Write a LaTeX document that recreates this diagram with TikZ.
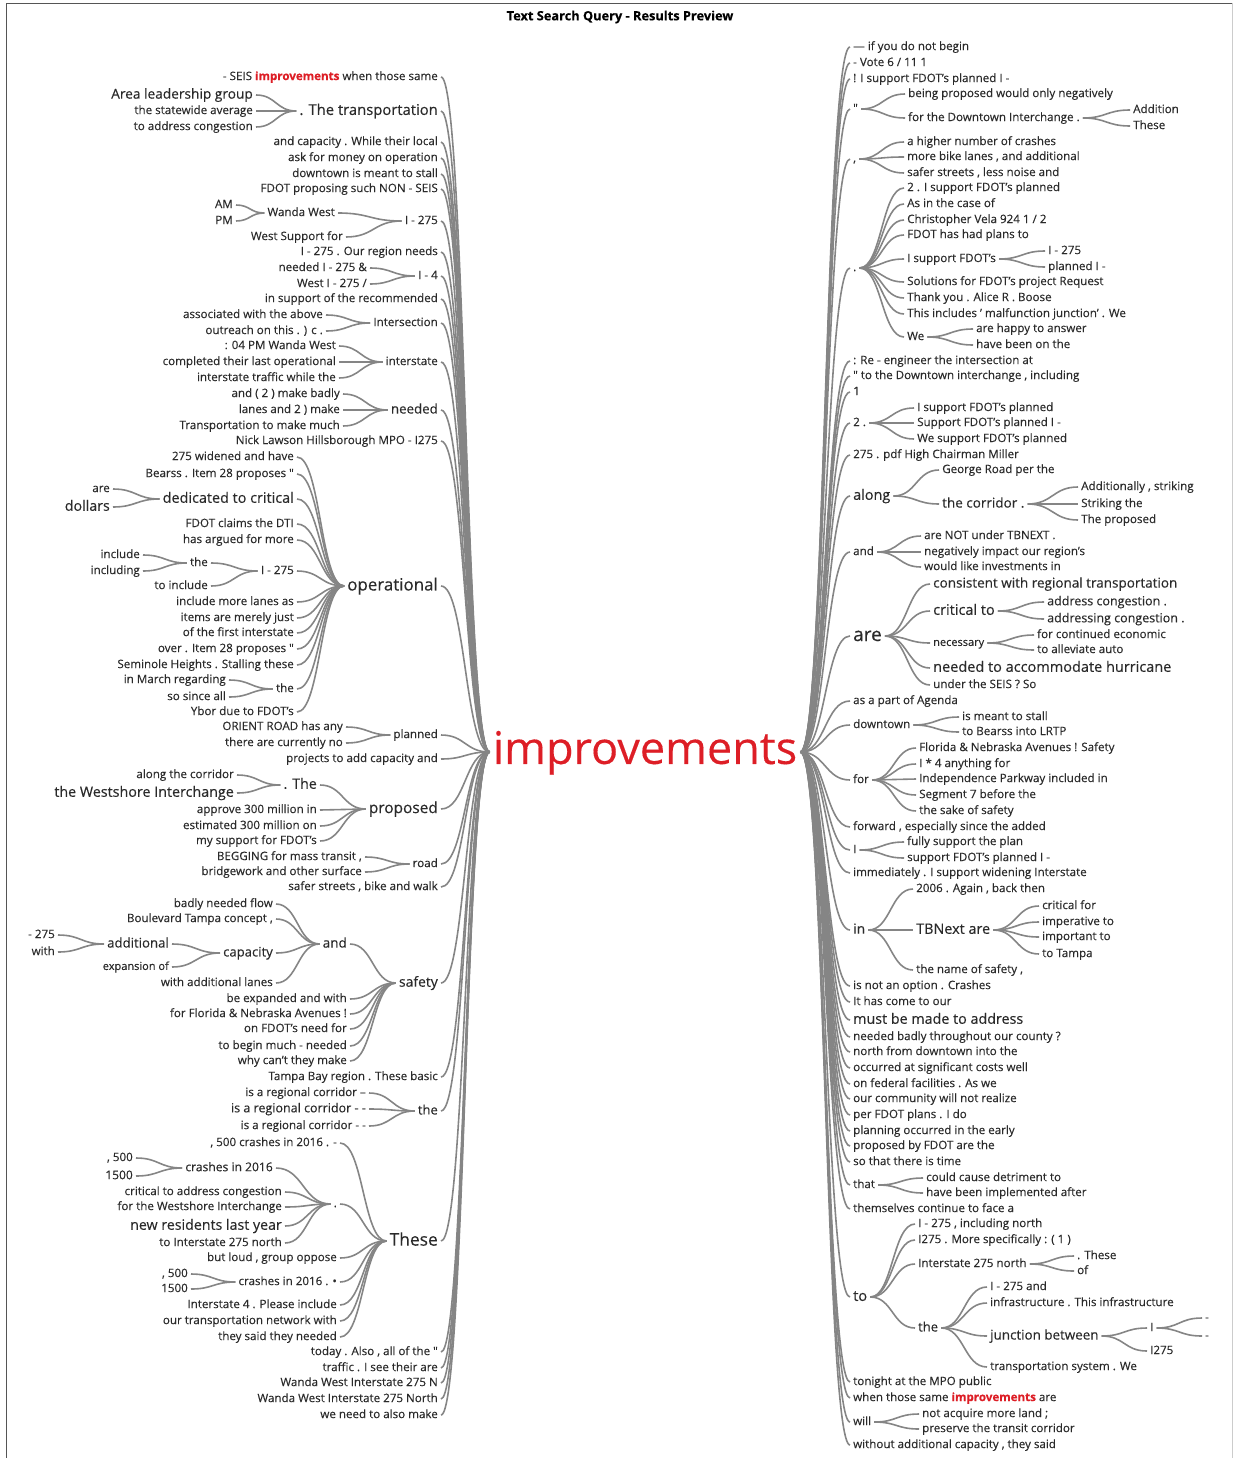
\documentclass[tikz,border=0pt]{standalone}
\usepackage{fontspec}
\setmainfont{Open Sans}[FakeBold=0.3]
\usetikzlibrary{calc}
\definecolor{wordgray}{HTML}{2A2A2A}
\definecolor{linkgray}{HTML}{858585}
\definecolor{hitred}{HTML}{DD1E26}
\definecolor{framegray}{HTML}{555555}
\newcommand{\kwd}{\textbf{\color{hitred}improvements}}

\tikzset{
  wsize/.style={font=\fontsize{#1}{#1}\selectfont, text height={0.75*#1pt}, text depth={0.22*#1pt}},
  wd/.style={text=wordgray, inner xsep=3pt, inner ysep=0pt, wsize=11.6},
  lw/.style={wd, anchor=east},
  rw/.style={wd, anchor=west},
  link/.style={draw=linkgray, line width=1.6pt,
    to path={let \p1=(\tikztostart), \p2=(\tikztotarget), \p3=($(\p1)!0.5!(\p2)$) in
      .. controls (\x3,\y1) and (\x3,\y2) .. (\tikztotarget)}},
}

\begin{document}
\begin{tikzpicture}[x=1pt, y=-1pt]
\useasboundingbox (0,0) rectangle (1233,1458);
% frame
\draw[framegray] (6,1458) -- (6,3) -- (1232,3);
\draw[black!20] (1232,3) -- (1232,1458);
\node[text=black, font=\bfseries\fontsize{12.8}{14}\selectfont] (title) at (620,17) {Text Search Query - Results Preview};

% root word
\node[text=hitred, inner xsep=3pt, inner ysep=0pt, wsize=45] (root) at (645,752) {improvements};

% left side
\node[lw] (a1) at (441,77) {- SEIS \kwd{} when those same};
\node[lw, wsize=14.8] (a2) at (441,111) {. The transportation};
  \node[lw, wsize=13.7] (a2a) at (256,95) {Area leadership group};
  \node[lw] (a2b) at (256,111) {the statewide average};
  \node[lw] (a2c) at (256,127) {to address congestion};
\node[lw] (a3) at (441,142) {and capacity . While their local};
\node[lw] (a4) at (441,158) {ask for money on operation};
\node[lw] (a5) at (441,174) {downtown is meant to stall};
\node[lw] (a6) at (441,189) {FDOT proposing such NON - SEIS};
\node[lw] (a7) at (441,221) {I - 275};
  \node[lw] (a7a) at (338,213) {Wanda West};
    \node[lw] (a7aa) at (236,205) {AM};
    \node[lw] (a7ab) at (236,221) {PM};
  \node[lw] (a7b) at (346,237) {West Support for};
\node[lw] (a8) at (441,252) {I - 275 . Our region needs};
\node[lw] (a9) at (441,276) {I - 4};
  \node[lw] (a9a) at (370,268) {needed I - 275 \&};
  \node[lw] (a9b) at (370,284) {West I - 275 /};
\node[lw] (a10) at (441,299) {in support of the recommended};
\node[lw] (a11) at (441,323) {Intersection};
  \node[lw] (a11a) at (326,315) {associated with the above};
  \node[lw] (a11b) at (326,331) {outreach on this . ) c .};
\node[lw] (a12) at (441,362) {interstate};
  \node[lw] (a12a) at (339,346) {: 04 PM Wanda West};
  \node[lw] (a12b) at (339,362) {completed their last operational};
  \node[lw] (a12c) at (339,378) {interstate traffic while the};
\node[lw, wsize=13.3] (a13) at (441,410) {needed};
  \node[lw] (a13a) at (343,394) {and ( 2 ) make badly};
  \node[lw] (a13b) at (343,410) {lanes and 2 ) make};
  \node[lw] (a13c) at (343,426) {Transportation to make much};
\node[lw] (a14) at (441,441) {Nick Lawson Hillsborough MPO - I275};
\node[lw, wsize=16.9] (a15) at (441,586) {operational};
  \node[lw] (b1) at (297,457) {275 widened and have};
  \node[lw] (b2) at (297,474) {Bearss . Item 28 proposes \textquotedbl};
  \node[lw, wsize=14.4] (b3) at (297,499) {dedicated to critical};
    \node[lw] (b3a) at (113,489) {are};
    \node[lw, wsize=14.2] (b3b) at (113,507) {dollars};
  \node[lw] (b4) at (297,524) {FDOT claims the DTI};
  \node[lw] (b5) at (297,540) {has argued for more};
  \node[lw] (b6) at (297,571) {I - 275};
    \node[lw] (b6a) at (211,563) {the};
      \node[lw] (b6aa) at (143,555) {include};
      \node[lw] (b6ab) at (143,571) {including};
    \node[lw] (b6b) at (211,586) {to include};
  \node[lw] (b7) at (297,602) {include more lanes as};
  \node[lw] (b8) at (297,618) {items are merely just};
  \node[lw] (b9) at (297,633) {of the first interstate};
  \node[lw] (b10) at (297,649) {over . Item 28 proposes \textquotedbl};
  \node[lw] (b11) at (297,665) {Seminole Heights . Stalling these};
  \node[lw] (b12) at (297,689) {the};
    \node[lw] (b12a) at (229,680) {in March regarding};
    \node[lw] (b12b) at (229,697) {so since all};
  \node[lw] (b13) at (297,712) {Ybor due to FDOT's};
\node[lw] (a16) at (441,735) {planned};
  \node[lw] (a16a) at (346,727) {ORIENT ROAD has any};
  \node[lw] (a16b) at (346,743) {there are currently no};
\node[lw] (a17) at (441,759) {projects to add capacity and};
\node[lw, wsize=15.4] (a18) at (441,809) {proposed};
  \node[lw, wsize=14.2] (c1) at (320,785) {. The};
    \node[lw] (c1a) at (237,775) {along the corridor};
    \node[lw, wsize=14.3] (c1b) at (237,793) {the Westshore Interchange};
  \node[lw] (c2) at (320,810) {approve 300 million in};
  \node[lw] (c3) at (320,826) {estimated 300 million on};
  \node[lw] (c4) at (320,841) {my support for FDOT's};
\node[lw] (a19) at (441,864) {road};
  \node[lw] (a19a) at (365,857) {BEGGING for mass transit ,};
  \node[lw] (a19b) at (365,872) {bridgework and other surface};
\node[lw] (a20) at (441,887) {safer streets , bike and walk};
\node[lw, wsize=13.9] (a21) at (441,983) {safety};
  \node[lw, wsize=13.5] (d1) at (350,944) {and};
    \node[lw] (d1a) at (276,904) {badly needed flow};
    \node[lw] (d1b) at (276,919) {Boulevard Tampa concept ,};
    \node[lw, wsize=13.1] (d1c) at (276,953) {capacity};
      \node[lw, wsize=13.2] (d1ca) at (172,944) {additional};
        \node[lw] (d1caa) at (58,935) {- 275};
        \node[lw] (d1cab) at (58,952) {with};
      \node[lw, wsize=11] (d1cb) at (172,967) {expansion of};
    \node[lw] (d1d) at (276,983) {with additional lanes};
  \node[lw] (d2) at (350,999) {be expanded and with};
  \node[lw] (d3) at (350,1014) {for Florida \& Nebraska Avenues !};
  \node[lw] (d4) at (350,1029) {on FDOT's need for};
  \node[lw] (d5) at (350,1046) {to begin much - needed};
  \node[lw] (d6) at (350,1061) {why can't they make};
\node[lw] (a22) at (441,1077) {Tampa Bay region . These basic};
\node[lw, wsize=13] (a23) at (441,1111) {the};
  \node[lw] (a23a) at (369,1093) {is a regional corridor --};
  \node[lw, wsize=12.5] (a23b) at (369,1109) {is a regional corridor - -};
  \node[lw] (a23c) at (369,1126) {is a regional corridor - -};
\node[lw, wsize=17.4] (a24) at (441,1241) {These};
  \node[lw] (e1) at (340,1143) {, 500 crashes in 2016 . -};
  \node[lw] (e2) at (340,1204) {.};
    \node[lw, wsize=12.1] (e2a) at (276,1168) {crashes in 2016};
      \node[lw] (e2aa) at (136,1158) {, 500};
      \node[lw, wsize=12] (e2ab) at (136,1176) {1500};
    \node[lw] (e2b) at (285,1192) {critical to address congestion};
    \node[lw] (e2c) at (285,1207) {for the Westshore Interchange};
    \node[lw, wsize=14.2] (e2d) at (285,1226) {new residents last year};
    \node[lw] (e2e) at (285,1243) {to Interstate 275 north};
  \node[lw] (e3) at (340,1258) {but loud , group oppose};
  \node[lw] (e4) at (340,1282) {crashes in 2016 . •};
    \node[lw] (e4a) at (191,1274) {, 500};
    \node[lw] (e4b) at (191,1289) {1500};
  \node[lw] (e5) at (340,1305) {Interstate 4 . Please include};
  \node[lw] (e6) at (340,1321) {our transportation network with};
  \node[lw] (e7) at (340,1337) {they said they needed};
\node[lw] (a25) at (441,1352) {today . Also , all of the \textquotedbl};
\node[lw] (a26) at (441,1368) {traffic . I see their are};
\node[lw] (a27) at (441,1383) {Wanda West Interstate 275 N};
\node[lw] (a28) at (441,1399) {Wanda West Interstate 275 North};
\node[lw] (a29) at (441,1415) {we need to also make};

% right side
\node[rw] (r1) at (850,47) {--- if you do not begin};
\node[rw] (r2) at (850,63) {- Vote 6 / 11 1};
\node[rw] (r3) at (850,79) {! I support FDOT's planned I -};
\node[rw] (r4) at (850,109) {\textquotedbl};
  \node[rw] (r4a) at (905,94) {being proposed would only negatively};
  \node[rw] (r4b) at (905,118) {for the Downtown Interchange .};
    \node[rw] (r4ba) at (1130,110) {Addition};
    \node[rw] (r4bb) at (1130,126) {These};
\node[rw] (r5) at (850,159) {,};
  \node[rw] (r5a) at (904,142) {a higher number of crashes};
  \node[rw] (r5b) at (904,157) {more bike lanes , and additional};
  \node[rw] (r5c) at (904,173) {safer streets , less noise and};
\node[rw] (r6) at (850,268) {.};
  \node[rw] (r6a) at (904,188) {2 . I support FDOT's planned};
  \node[rw] (r6b) at (904,204) {As in the case of};
  \node[rw] (r6c) at (904,220) {Christopher Vela 924 1 / 2};
  \node[rw] (r6d) at (904,235) {FDOT has had plans to};
  \node[rw] (r6e) at (904,259) {I support FDOT's};
    \node[rw] (r6ea) at (1045,251) {I - 275};
    \node[rw] (r6eb) at (1045,267) {planned I -};
  \node[rw] (r6f) at (904,282) {Solutions for FDOT's project Request};
  \node[rw] (r6g) at (904,298) {Thank you . Alice R . Boose};
  \node[rw] (r6h) at (904,314) {This includes ' malfunction junction' . We};
  \node[rw] (r6i) at (904,337) {We};
    \node[rw] (r6ia) at (973,329) {are happy to answer};
    \node[rw] (r6ib) at (973,345) {have been on the};
\node[rw] (r7) at (850,361) {: Re - engineer the intersection at};
\node[rw] (r8) at (850,376) {\textquotedbl{} to the Downtown interchange , including};
\node[rw] (r9) at (850,392) {1};
\node[rw] (r10) at (850,423) {2 .};
  \node[rw] (r10a) at (914,408) {I support FDOT's planned};
  \node[rw] (r10b) at (914,423) {Support FDOT's planned I -};
  \node[rw] (r10c) at (914,439) {We support FDOT's planned};
\node[rw] (r11) at (850,455) {275 . pdf High Chairman Miller};
\node[rw, wsize=14.4] (r12) at (850,496) {along};
  \node[rw] (r12a) at (939,470) {George Road per the};
  \node[rw, wsize=13.5] (r12b) at (939,504) {the corridor .};
    \node[rw] (r12ba) at (1078,487) {Additionally , striking};
    \node[rw] (r12bb) at (1078,504) {Striking the};
    \node[rw] (r12bc) at (1078,520) {The proposed};
\node[rw] (r13) at (850,552) {and};
  \node[rw] (r13a) at (921,536) {are NOT under TBNEXT .};
  \node[rw] (r13b) at (921,552) {negatively impact our region's};
  \node[rw] (r13c) at (921,567) {would like investments in};
\node[rw, wsize=19] (r14) at (850,636) {are};
  \node[rw, wsize=13.5] (r14a) at (930,584) {consistent with regional transportation};
  \node[rw, wsize=14.5] (r14b) at (930,611) {critical to};
    \node[rw, wsize=12.5] (r14ba) at (1044,602) {address congestion .};
    \node[rw, wsize=12.5] (r14bb) at (1044,619) {addressing congestion .};
  \node[rw, wsize=11] (r14c) at (930,643) {necessary};
    \node[rw] (r14ca) at (1034,635) {for continued economic};
    \node[rw] (r14cb) at (1034,650) {to alleviate auto};
  \node[rw, wsize=14.5] (r14d) at (930,668) {needed to accommodate hurricane};
  \node[rw] (r14e) at (930,685) {under the SEIS ? So};
\node[rw] (r15) at (850,701) {as a part of Agenda};
\node[rw] (r16) at (850,725) {downtown};
  \node[rw] (r16a) at (959,717) {is meant to stall};
  \node[rw] (r16b) at (959,732) {to Bearss into LRTP};
\node[rw] (r17) at (850,780) {for};
  \node[rw] (r17a) at (916,748) {Florida \& Nebraska Avenues ! Safety};
  \node[rw] (r17b) at (916,764) {I * 4 anything for};
  \node[rw] (r17c) at (916,779) {Independence Parkway included in};
  \node[rw] (r17d) at (916,795) {Segment 7 before the};
  \node[rw] (r17e) at (916,811) {the sake of safety};
\node[rw] (r18) at (850,827) {forward , especially since the added};
\node[rw] (r19) at (850,850) {I};
  \node[rw] (r19a) at (904,842) {fully support the plan};
  \node[rw] (r19b) at (904,858) {support FDOT's planned I -};
\node[rw] (r20) at (850,873) {immediately . I support widening Interstate};
\node[rw, wsize=13.8] (r21) at (850,930) {in};
  \node[rw] (r21a) at (913,889) {2006 . Again , back then};
  \node[rw, wsize=14.4] (r21b) at (913,930) {TBNext are};
    \node[rw] (r21ba) at (1039,906) {critical for};
    \node[rw] (r21bb) at (1039,922) {imperative to};
    \node[rw] (r21bc) at (1039,937) {important to};
    \node[rw] (r21bd) at (1039,954) {to Tampa};
  \node[rw] (r21c) at (913,970) {the name of safety ,};
\node[rw] (r22) at (850,986) {is not an option . Crashes};
\node[rw] (r23) at (850,1002) {It has come to our};
\node[rw, wsize=14.3] (r24) at (850,1020) {must be made to address};
\node[rw] (r25) at (850,1037) {needed badly throughout our county ?};
\node[rw] (r26) at (850,1052) {north from downtown into the};
\node[rw] (r27) at (850,1068) {occurred at significant costs well};
\node[rw] (r28) at (850,1084) {on federal facilities . As we};
\node[rw] (r29) at (850,1099) {our community will not realize};
\node[rw] (r30) at (850,1115) {per FDOT plans . I do};
\node[rw] (r31) at (850,1131) {planning occurred in the early};
\node[rw] (r32) at (850,1146) {proposed by FDOT are the};
\node[rw] (r33) at (850,1162) {so that there is time};
\node[rw] (r34) at (850,1185) {that};
  \node[rw] (r34a) at (923,1178) {could cause detriment to};
  \node[rw] (r34b) at (923,1193) {have been implemented after};
\node[rw] (r35) at (850,1209) {themselves continue to face a};
\node[rw, wsize=14.6] (r36) at (850,1297) {to};
  \node[rw] (r36a) at (915,1224) {I - 275 , including north};
  \node[rw] (r36b) at (915,1240) {I275 . More specifically : ( 1 )};
  \node[rw] (r36c) at (915,1264) {Interstate 275 north};
    \node[rw] (r36ca) at (1074,1256) {. These};
    \node[rw] (r36cb) at (1074,1271) {of};
  \node[rw, wsize=13] (r36d) at (915,1328) {the};
    \node[rw] (r36da) at (987,1287) {I - 275 and};
    \node[rw] (r36db) at (987,1303) {infrastructure . This infrastructure};
    \node[rw, wsize=13.4] (r36dc) at (987,1336) {junction between};
      \node[rw] (r36dca) at (1147,1328) {I};
        \node[rw] (r36dcaa) at (1202,1318) {-};
        \node[rw] (r36dcab) at (1202,1336) {-};
      \node[rw] (r36dcb) at (1147,1351) {I275};
    \node[rw] (r36dd) at (987,1367) {transportation system . We};
\node[rw] (r37) at (850,1382) {tonight at the MPO public};
\node[rw] (r38) at (850,1398) {when those same \kwd{} are};
\node[rw] (r39) at (850,1422) {will};
  \node[rw] (r39a) at (919,1414) {not acquire more land ;};
  \node[rw] (r39b) at (919,1429) {preserve the transit corridor};
\node[rw] (r40) at (850,1445) {without additional capacity , they said};

% links into the root
\foreach \i in {1,...,29} \draw[link] (a\i.east) to (root.west);
\foreach \i in {1,...,40} \draw[link] (root.east) to (r\i.west);

% left branches
\foreach \ch/\pa in {a2a/a2,a2b/a2,a2c/a2,a7a/a7,a7b/a7,a7aa/a7a,a7ab/a7a,
    a9a/a9,a9b/a9,a11a/a11,a11b/a11,a12a/a12,a12b/a12,a12c/a12,
    a13a/a13,a13b/a13,a13c/a13,
    b1/a15,b2/a15,b3/a15,b4/a15,b5/a15,b6/a15,b7/a15,b8/a15,b9/a15,
    b10/a15,b11/a15,b12/a15,b13/a15,
    b3a/b3,b3b/b3,b6a/b6,b6b/b6,b6aa/b6a,b6ab/b6a,b12a/b12,b12b/b12,
    a16a/a16,a16b/a16,c1/a18,c2/a18,c3/a18,c4/a18,c1a/c1,c1b/c1,
    a19a/a19,a19b/a19,
    d1/a21,d2/a21,d3/a21,d4/a21,d5/a21,d6/a21,
    d1a/d1,d1b/d1,d1c/d1,d1d/d1,d1ca/d1c,d1cb/d1c,d1caa/d1ca,d1cab/d1ca,
    a23a/a23,a23b/a23,a23c/a23,
    e1/a24,e2/a24,e3/a24,e4/a24,e5/a24,e6/a24,e7/a24,
    e2a/e2,e2b/e2,e2c/e2,e2d/e2,e2e/e2,e2aa/e2a,e2ab/e2a,e4a/e4,e4b/e4}
  \draw[link] (\ch.east) to (\pa.west);

% right branches
\foreach \ch/\pa in {r4a/r4,r4b/r4,r4ba/r4b,r4bb/r4b,r5a/r5,r5b/r5,r5c/r5,
    r6a/r6,r6b/r6,r6c/r6,r6d/r6,r6e/r6,r6f/r6,r6g/r6,r6h/r6,r6i/r6,
    r6ea/r6e,r6eb/r6e,r6ia/r6i,r6ib/r6i,r10a/r10,r10b/r10,r10c/r10,
    r12a/r12,r12b/r12,r12ba/r12b,r12bb/r12b,r12bc/r12b,
    r13a/r13,r13b/r13,r13c/r13,
    r14a/r14,r14b/r14,r14c/r14,r14d/r14,r14e/r14,
    r14ba/r14b,r14bb/r14b,r14ca/r14c,r14cb/r14c,r16a/r16,r16b/r16,
    r17a/r17,r17b/r17,r17c/r17,r17d/r17,r17e/r17,r19a/r19,r19b/r19,
    r21a/r21,r21b/r21,r21c/r21,r21ba/r21b,r21bb/r21b,r21bc/r21b,r21bd/r21b,
    r34a/r34,r34b/r34,r36a/r36,r36b/r36,r36c/r36,r36d/r36,
    r36ca/r36c,r36cb/r36c,r36da/r36d,r36db/r36d,r36dc/r36d,r36dd/r36d,
    r36dca/r36dc,r36dcb/r36dc,r36dcaa/r36dca,r36dcab/r36dca,r39a/r39,r39b/r39}
  \draw[link] (\pa.east) to (\ch.west);
\end{tikzpicture}
\end{document}
